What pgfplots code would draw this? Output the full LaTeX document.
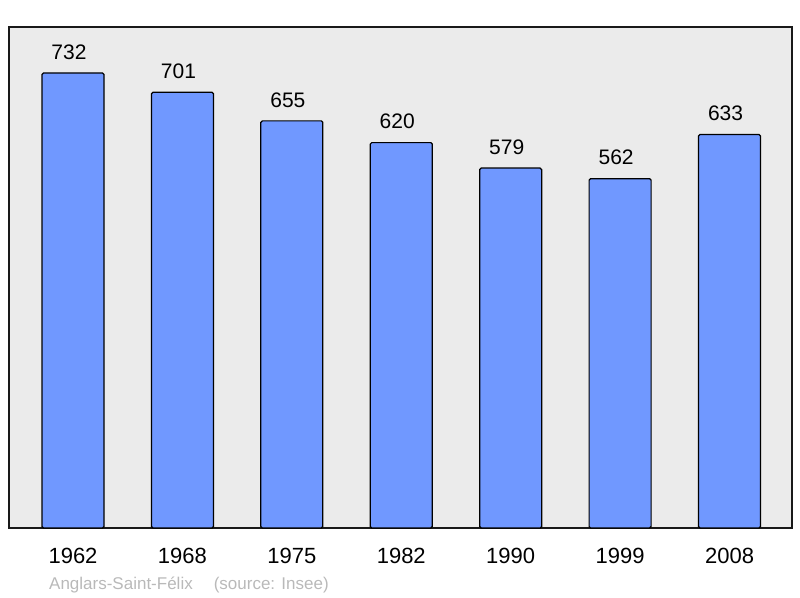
\documentclass[border=0pt]{standalone}
\usepackage{pgfplots}
\pgfplotsset{compat=1.18}
\usepackage{fontspec}
\setmainfont{Liberation Sans}
\definecolor{barblue}{RGB}{112,152,255}
\definecolor{bggray}{RGB}{235,235,235}
\definecolor{srcgray}{RGB}{185,185,185}
\begin{document}
\begin{tikzpicture}
\begin{axis}[
  scale only axis, width=783pt, height=501pt,
  xmin=-0.585, xmax=6.571, ymin=0, ymax=806,
  ybar, bar width=62pt,
  /pgf/number format/assume math mode=true,
  axis background/.style={fill=bggray},
  axis line style={line width=1.6pt, black!90},
  xtick={0,...,6},
  xticklabels={1962,1968,1975,1982,1990,1999,2008},
  ytick=\empty, major tick length=0pt,
  xticklabel style={font=\fontsize{22}{24}\selectfont, anchor=center, yshift=-28pt},
  nodes near coords,
  nodes near coords style={font=\fontsize{21}{23}\selectfont, anchor=center, yshift=21pt, xshift=-4pt, text=black},
  clip=false,
]
\addplot[fill=barblue, draw=black, line width=1.2pt, rounded corners=1.5pt] coordinates {(0,732) (1,701) (2,655) (3,620) (4,579) (5,562) (6,633)};
\coordinate (sw) at (rel axis cs:0,0);
\coordinate (ne) at (rel axis cs:1,1);
\end{axis}
\node[anchor=west, text=srcgray, font=\fontsize{17}{19}\selectfont, inner sep=0pt] at ([shift={(40pt,-57pt)}]sw) {Anglars-Saint-Félix\hspace{21pt}(source: Insee)};
\pgfresetboundingbox
\path ([shift={(-9pt,-70pt)}]sw) rectangle ([shift={(8pt,27pt)}]ne);
\end{tikzpicture}
\end{document}
